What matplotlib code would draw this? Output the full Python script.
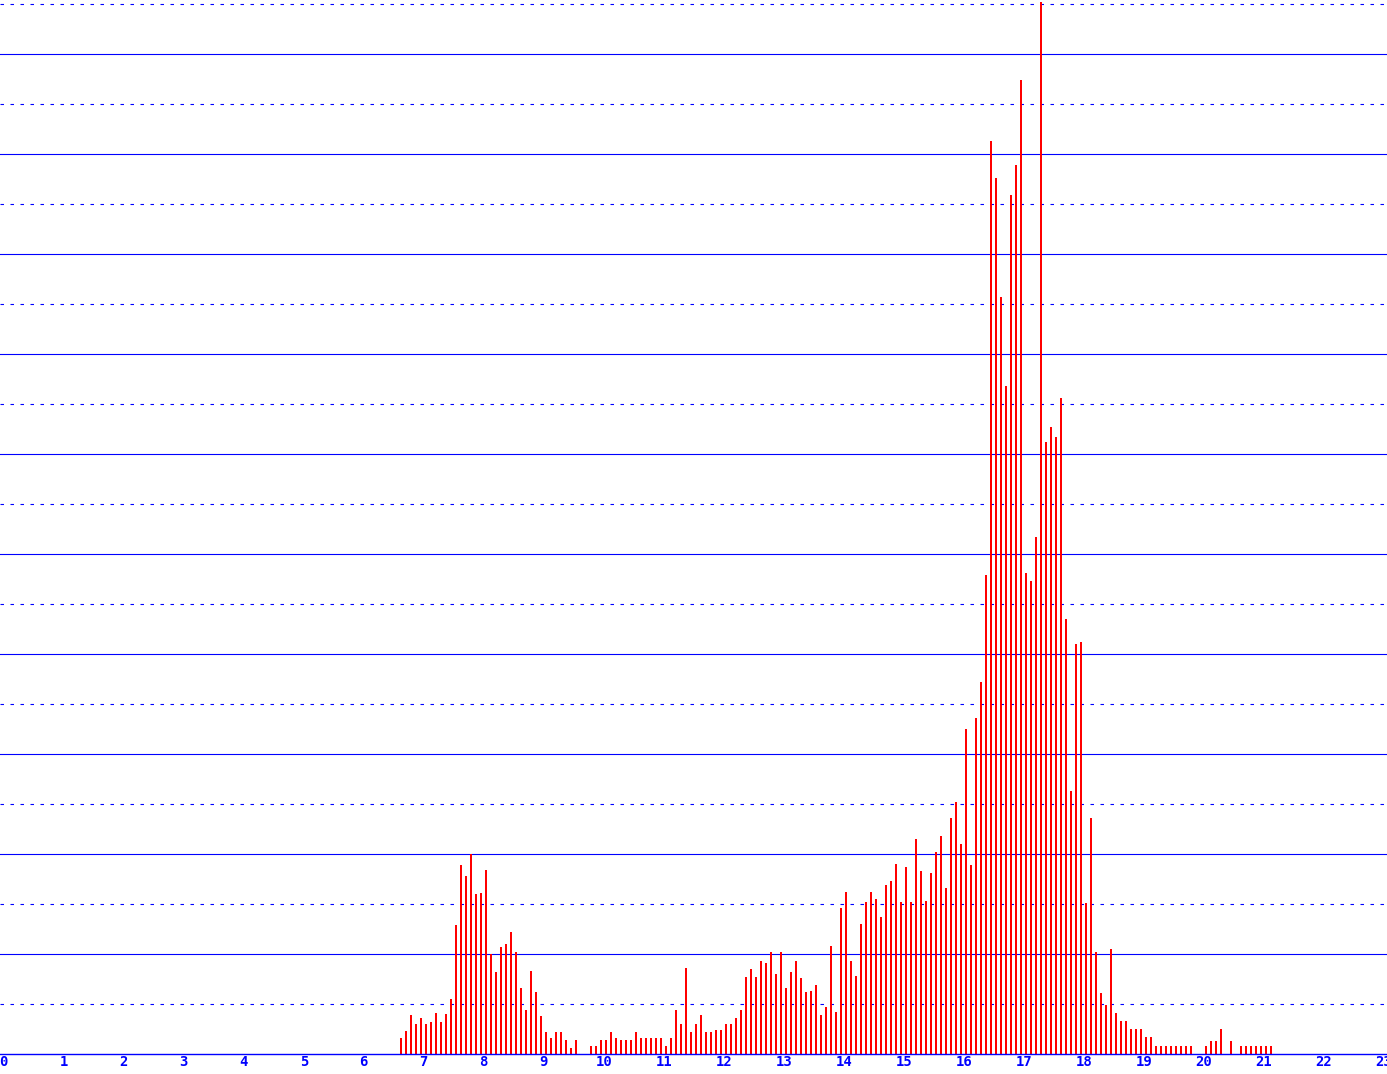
import numpy as np
import matplotlib
matplotlib.use("Agg")
import matplotlib.pyplot as plt

plt.rcParams["lines.scale_dashes"] = False

# 5-minute bins, first bin starts at 6:35
first_bin_min = 6 * 60 + 35
bin_min = 5

# values per hour (bin heights)
h06 = [3.3, 4.7, 7.9, 6.1, 7.3]
h07 = [6.1, 6.5, 8.3, 6.5, 8.1, 11.1, 25.9, 37.9, 35.7, 40.1, 32.1, 32.3]
h08 = [36.9, 20.1, 16.5, 21.5, 22.1, 24.5, 20.5, 13.3, 8.9, 16.7, 12.5, 7.7]
h09 = [4.5, 3.3, 4.5, 4.5, 2.9, 1.3, 2.9, 0, 0, 1.7, 1.7, 2.9]
h10 = [2.9, 4.5, 3.3, 2.9, 2.9, 2.9, 4.5, 3.3, 3.3, 3.3, 3.3, 3.3]
h11 = [1.7, 3.3, 8.9, 6.1, 17.3, 4.5, 6.1, 7.8, 4.4, 4.4, 4.8, 4.8]
h12 = [6.0, 6.0, 7.2, 8.8, 15.4, 17.0, 15.4, 18.6, 18.2, 20.4, 16.0, 20.4]
h13 = [13.2, 16.4, 18.6, 15.2, 12.4, 12.6, 13.8, 7.8, 9.4, 21.6, 8.4, 29.2]
h14 = [32.4, 18.6, 15.6, 26.0, 30.4, 32.4, 31.0, 27.4, 33.8, 34.6, 38.0, 30.4]
h15 = [37.4, 30.4, 43.0, 36.6, 30.6, 36.2, 40.4, 43.6, 33.2, 47.2, 50.4, 42.0]
h16 = [65.0, 37.8, 67.2, 74.4, 95.8, 182.6, 175.2, 151.4, 133.6, 171.8, 177.8, 194.8]
h17 = [96.2, 94.6, 103.4, 210.4, 122.4, 125.4, 123.4, 131.2, 87.0, 52.6, 82.0, 82.4]
h18 = [30.2, 47.2, 20.4, 12.2, 9.8, 21.0, 8.2, 6.6, 6.6, 5.0, 5.0, 5.0]
h19 = [3.4, 3.4, 1.7, 1.7, 1.7, 1.7, 1.7, 1.7, 1.7, 1.7, 0, 0]
h20 = [1.7, 2.6, 2.6, 5.0, 0, 2.6, 0, 1.7, 1.7, 1.7, 1.7, 1.7]
h21 = [1.7, 1.7]

hour_labels = [str(h) for h in range(24)]

values = np.array(h06 + h07 + h08 + h09 + h10 + h11 + h12 + h13 + h14
                  + h15 + h16 + h17 + h18 + h19 + h20 + h21)
starts = first_bin_min + bin_min * np.arange(len(values))
centers = (starts + bin_min / 2) / 60.0

fig = plt.figure(figsize=(13.87, 10.74), dpi=100)
ax = fig.add_axes([0, 20 / 1074, 1, 1054 / 1074])

blue = "#0000ff"
red = "#ff0000"

# grid: solid every 20, dotted in between
for y in range(20, 201, 20):
    ax.axhline(y, color=blue, lw=0.8, zorder=1)
for y in range(10, 211, 20):
    ax.axhline(y, color=blue, lw=0.8, dashes=(2.5, 4.7), zorder=1)

ax.bar(centers, values, width=2 / 60, color=red, linewidth=0, zorder=2)

ax.set_xlim(-3.8 / 60, (1387 - 3.8) / 60)
ax.set_ylim(0, 210.8)

ax.set_xticks(range(24))
ax.set_xticklabels(hour_labels, family="DejaVu Sans Mono", weight="bold",
                   fontsize=10, color=blue)
ax.tick_params(axis="x", length=0, pad=1)
ax.set_yticks([])

for side in ["top", "left", "right"]:
    ax.spines[side].set_visible(False)
ax.spines["bottom"].set_color(blue)
ax.spines["bottom"].set_linewidth(1.0)

fig.savefig("out.png", dpi=100)
